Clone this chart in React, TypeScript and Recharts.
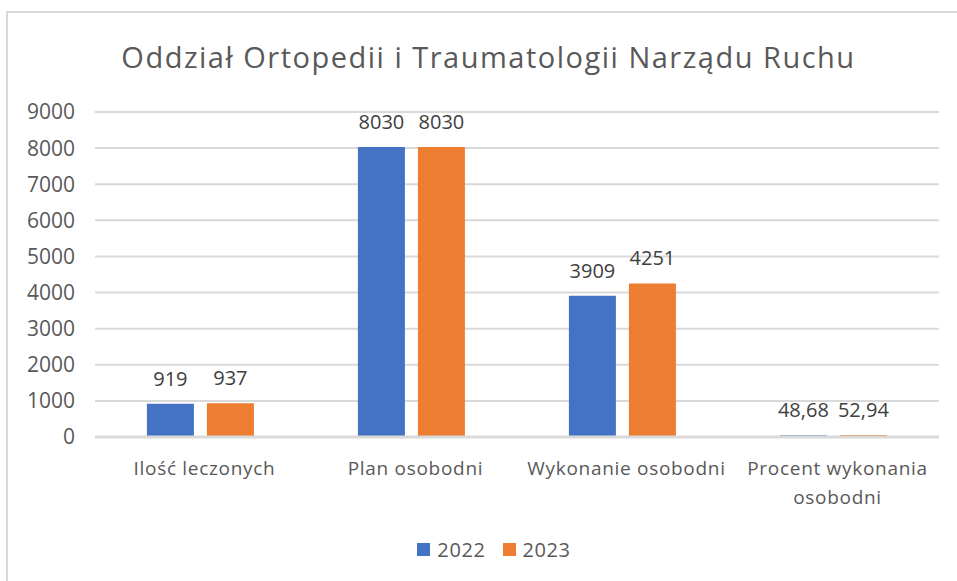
import { BarChart, Bar, XAxis, YAxis, CartesianGrid, LabelList, ReferenceLine } from "recharts";

const categories = ["Ilość leczonych", "Plan osobodni", "Wykonanie osobodni", "Procent wykonania osobodni"];
const values2022 = [919, 8030, 3909, 48.68];
const values2023 = [937, 8030, 4251, 52.94];
const yTicks = [0, 1000, 2000, 3000, 4000, 5000, 6000, 7000, 8000, 9000];

const BLUE = "#4472C4";
const ORANGE = "#ED7D31";
const TEXT = "#595959";
const FONT = "'Open Sans', sans-serif";

const data = categories.map((name, i) => ({ name, y2022: values2022[i], y2023: values2023[i] }));

const fmt = (v: number) => (Number.isInteger(v) ? String(v) : v.toFixed(2).replace(".", ","));

// greedy word wrap, ~19 chars per line
function wrap(label: string, max = 19) {
  const lines: string[] = [];
  let cur = "";
  for (const w of label.split(" ")) {
    const next = cur ? cur + " " + w : w;
    if (next.length > max && cur) {
      lines.push(cur);
      cur = w;
    } else {
      cur = next;
    }
  }
  if (cur) lines.push(cur);
  return lines;
}

function CategoryTick(props: any) {
  const { x, y, payload } = props;
  const lines = wrap(payload.value);
  return (
    <text x={x} y={y} textAnchor="middle" fill={TEXT} fontSize={19} fontFamily={FONT} letterSpacing={0.7}>
      {lines.map((l, i) => (
        <tspan key={i} x={x + 4} dy={i === 0 ? 38 : 29}>
          {l}
        </tspan>
      ))}
    </text>
  );
}

export default function App() {
  return (
    <div style={{ position: "absolute", left: 0, top: 0, width: 957, height: 581, background: "#fff", overflow: "hidden" }}>
      <div
        style={{
          position: "absolute",
          left: 6,
          top: 11,
          width: 980,
          height: 600,
          borderTop: "2px solid #d9d9d9",
          borderLeft: "2px solid #d9d9d9",
        }}
      />
      <div
        style={{
          position: "absolute",
          left: 0,
          top: 37,
          width: 977,
          textAlign: "center",
          fontFamily: FONT,
          fontSize: 29,
          letterSpacing: 1.5,
          color: TEXT,
        }}
      >
        Oddział Ortopedii i Traumatologii Narządu Ruchu
      </div>
      <BarChart
        width={957}
        height={581}
        data={data}
        margin={{ top: 112, right: 18, bottom: 64, left: 0 }}
        barCategoryGap="24.6%"
        barGap={13}
        style={{ position: "absolute", left: 0, top: 0 }}
      >
        <CartesianGrid vertical={false} stroke="#d9d9d9" strokeWidth={2} />
        <YAxis
          width={95}
          domain={[0, 9000]}
          ticks={yTicks}
          axisLine={false}
          tickLine={false}
          tickSize={0}
          tickMargin={20}
          tick={{ fill: TEXT, fontSize: 21, fontFamily: FONT }}
        />
        <XAxis
          dataKey="name"
          height={80}
          axisLine={false}
          tickLine={false}
          tickSize={0}
          tickMargin={0}
          interval={0}
          tick={<CategoryTick />}
        />
        <Bar dataKey="y2022" fill={BLUE} isAnimationActive={false}>
          <LabelList dataKey="y2022" position="top" offset={18} formatter={fmt} fill="#404040" fontSize={20} fontFamily={FONT} />
        </Bar>
        <Bar dataKey="y2023" fill={ORANGE} isAnimationActive={false}>
          <LabelList dataKey="y2023" position="top" offset={18} formatter={fmt} fill="#404040" fontSize={20} fontFamily={FONT} />
        </Bar>
        <ReferenceLine y={0} stroke="#d9d9d9" strokeWidth={3} />
      </BarChart>
      <div
        style={{
          position: "absolute",
          left: 0,
          top: 536,
          width: 988,
          display: "flex",
          justifyContent: "center",
          gap: 17,
          fontFamily: FONT,
          fontSize: 20,
          letterSpacing: 0.6,
          color: TEXT,
        }}
      >
        <span style={{ display: "flex", alignItems: "center", gap: 7 }}>
          <span style={{ width: 13, height: 13, background: BLUE, display: "inline-block" }} />
          2022
        </span>
        <span style={{ display: "flex", alignItems: "center", gap: 7 }}>
          <span style={{ width: 13, height: 13, background: ORANGE, display: "inline-block" }} />
          2023
        </span>
      </div>
    </div>
  );
}
